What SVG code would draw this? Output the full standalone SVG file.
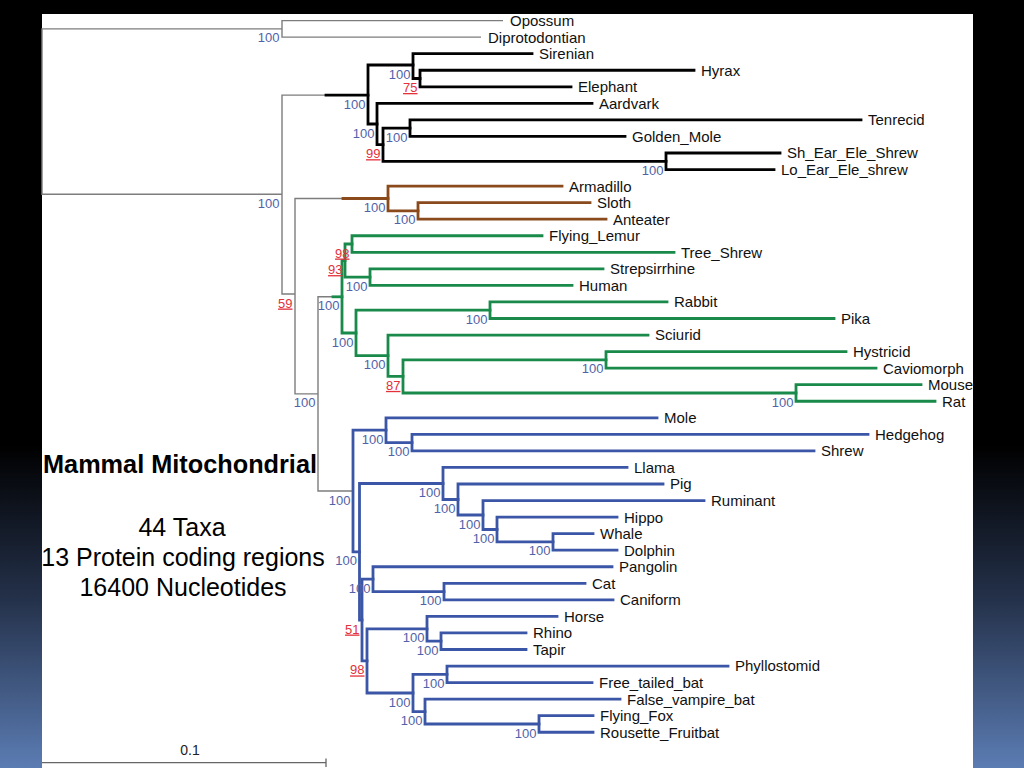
<svg xmlns="http://www.w3.org/2000/svg" width="1024" height="768" viewBox="0 0 1024 768">
<defs>
<linearGradient id="bg" x1="0" y1="0" x2="0" y2="768" gradientUnits="userSpaceOnUse">
<stop offset="0" stop-color="#000"/>
<stop offset="0.58" stop-color="#000"/>
<stop offset="0.78" stop-color="#24314a"/>
<stop offset="1" stop-color="#5b7cb3"/>
</linearGradient>
<style>
.br{fill:none;stroke-linejoin:miter;stroke-linecap:square}
.g{stroke:#7d7d7d;stroke-width:1.4;stroke-linecap:butt}
.k{stroke:#000;stroke-width:2.8}
.o{stroke:#8b4a1c;stroke-width:2.8}
.n{stroke:#198a4a;stroke-width:2.8}
.b{stroke:#3b56a6;stroke-width:2.8}
.tx{font-family:"Liberation Sans",Arial,sans-serif;font-size:15px;fill:#111}
.bs{font-family:"Liberation Sans",Arial,sans-serif;font-size:13px;fill:#5062a8;text-anchor:end}
.rs{font-family:"Liberation Sans",Arial,sans-serif;font-size:13px;fill:#e3303b;text-anchor:end;text-decoration:underline}
.info{font-family:"Liberation Sans",Arial,sans-serif;font-size:25px;fill:#000;text-anchor:middle}
</style>
</defs>
<rect x="0" y="0" width="1024" height="768" fill="url(#bg)"/>
<rect x="42" y="14" width="931" height="754" fill="#fff"/>

<g id="connectors">
<g class="br g">
<path d="M282 28.9 H42 V194.3 H282"/>
<path d="M503 20.6 H282 V37.15 H481"/>
<path d="M325 95.1 H282 V294 H295"/>
<path d="M342 198.5 H295 V393.9 H318"/>
<path d="M332 296.8 H318 V491 H353"/>
</g>
<g class="br k">
<path d="M326 95.1 H368"/>
<path d="M413 65 H368 V124 H377"/>
<path d="M532 53.7 H413 V78.5 H420"/>
<path d="M694 70.25 H420 V86.8 H571"/>
<path d="M592 103.35 H377 V144.7 H383"/>
<path d="M410 128.2 H383 V161.3 H666"/>
<path d="M861 119.9 H410 V136.45 H625"/>
<path d="M780 153 H666 V169.55 H774"/>
</g>
<g class="br o">
<path d="M343 198.5 H388"/>
<path d="M562 186.1 H388 V210.9 H418"/>
<path d="M590 202.65 H418 V219.2 H606"/>
</g>
<g class="br n">
<path d="M333 296.8 H342"/>
<path d="M345 260.6 H342 V333 H356"/>
<path d="M352 244 H345 V277.1 H370"/>
<path d="M542 235.75 H352 V252.3 H674"/>
<path d="M603 268.85 H370 V285.4 H572"/>
<path d="M490 310.2 H356 V355.7 H388"/>
<path d="M667 301.95 H490 V318.5 H834"/>
<path d="M648 335.05 H388 V376.4 H403"/>
<path d="M606 359.9 H403 V393 H796"/>
<path d="M846 351.6 H606 V368.15 H876"/>
<path d="M921 384.7 H796 V401.25 H935"/>
</g>
<g class="br b">
<path d="M386 430.2 H353 V551.8 H359.5"/>
<path d="M657 417.8 H386 V442.6 H412"/>
<path d="M868 434.35 H412 V450.9 H814"/>
<path d="M443 483.5 H359.5 V620 H362"/>
<path d="M627 467.45 H443 V499.5 H458"/>
<path d="M663 484 H458 V515 H483"/>
<path d="M704 500.55 H483 V529.5 H497"/>
<path d="M617 517.1 H497 V541.9 H553"/>
<path d="M593 533.65 H553 V550.2 H617"/>
<path d="M373 579.2 H362 V660.9 H367"/>
<path d="M612 566.75 H373 V591.6 H444"/>
<path d="M585 583.3 H444 V599.85 H613"/>
<path d="M427 628.8 H367 V693 H413"/>
<path d="M557 616.4 H427 V641.2 H441"/>
<path d="M526 632.95 H441 V649.5 H526"/>
<path d="M447 674.3 H413 V711.6 H425"/>
<path d="M728 666.05 H447 V682.6 H592"/>
<path d="M620 699.15 H425 V724 H539"/>
<path d="M593 715.7 H539 V732.25 H593"/>
</g>
</g>

<g id="taxa" class="tx">
<g id="t-opossum"><text x="510" y="26">Opossum</text></g>
<g id="t-diprotodontian"><text x="488" y="42.5">Diprotodontian</text></g>
<g id="t-sirenian"><text x="539" y="59.1">Sirenian</text></g>
<g id="t-hyrax"><text x="701" y="75.6">Hyrax</text></g>
<g id="t-elephant"><text x="578" y="92.2">Elephant</text></g>
<g id="t-aardvark"><text x="599" y="108.7">Aardvark</text></g>
<g id="t-tenrecid"><text x="868" y="125.3">Tenrecid</text></g>
<g id="t-golden-mole"><text x="632" y="141.8">Golden_Mole</text></g>
<g id="t-sh-ear"><text x="787" y="158.4">Sh_Ear_Ele_Shrew</text></g>
<g id="t-lo-ear"><text x="781" y="174.9">Lo_Ear_Ele_shrew</text></g>
<g id="t-armadillo"><text x="569" y="191.5">Armadillo</text></g>
<g id="t-sloth"><text x="597" y="208">Sloth</text></g>
<g id="t-anteater"><text x="613" y="224.6">Anteater</text></g>
<g id="t-flying-lemur"><text x="549" y="241.1">Flying_Lemur</text></g>
<g id="t-tree-shrew"><text x="681" y="257.7">Tree_Shrew</text></g>
<g id="t-strepsirrhine"><text x="610" y="274.2">Strepsirrhine</text></g>
<g id="t-human"><text x="579" y="290.8">Human</text></g>
<g id="t-rabbit"><text x="674" y="307.3">Rabbit</text></g>
<g id="t-pika"><text x="841" y="323.9">Pika</text></g>
<g id="t-sciurid"><text x="655" y="340.4">Sciurid</text></g>
<g id="t-hystricid"><text x="853" y="357">Hystricid</text></g>
<g id="t-caviomorph"><text x="883" y="373.5">Caviomorph</text></g>
<g id="t-mouse"><text x="928" y="390.1">Mouse</text></g>
<g id="t-rat"><text x="942" y="406.6">Rat</text></g>
<g id="t-mole"><text x="664" y="423.2">Mole</text></g>
<g id="t-hedgehog"><text x="875" y="439.7">Hedgehog</text></g>
<g id="t-shrew"><text x="821" y="456.3">Shrew</text></g>
<g id="t-llama"><text x="634" y="472.8">Llama</text></g>
<g id="t-pig"><text x="670" y="489.4">Pig</text></g>
<g id="t-ruminant"><text x="711" y="505.9">Ruminant</text></g>
<g id="t-hippo"><text x="624" y="522.5">Hippo</text></g>
<g id="t-whale"><text x="600" y="539">Whale</text></g>
<g id="t-dolphin"><text x="624" y="555.6">Dolphin</text></g>
<g id="t-pangolin"><text x="619" y="572.1">Pangolin</text></g>
<g id="t-cat"><text x="592" y="588.7">Cat</text></g>
<g id="t-caniform"><text x="620" y="605.2">Caniform</text></g>
<g id="t-horse"><text x="564" y="621.8">Horse</text></g>
<g id="t-rhino"><text x="533" y="638.3">Rhino</text></g>
<g id="t-tapir"><text x="533" y="654.9">Tapir</text></g>
<g id="t-phyllostomid"><text x="735" y="671.4">Phyllostomid</text></g>
<g id="t-free-tailed-bat"><text x="599" y="688">Free_tailed_bat</text></g>
<g id="t-false-vampire-bat"><text x="627" y="704.5">False_vampire_bat</text></g>
<g id="t-flying-fox"><text x="600" y="721.1">Flying_Fox</text></g>
<g id="t-rousette"><text x="600" y="737.6">Rousette_Fruitbat</text></g>
</g>

<g id="support">
<g id="n-marsupialia"><text class="bs" x="279.5" y="42.4">100</text></g>
<g id="n-eutheria"><text class="bs" x="279.5" y="207.8">100</text></g>
<g id="n-a"><text class="rs" x="292.5" y="307.5">59</text></g>
<g id="n-b"><text class="bs" x="315.5" y="407.4">100</text></g>
<g id="n-afrotheria"><text class="bs" x="365.5" y="108.6">100</text></g>
<g id="n-e"><text class="bs" x="410.5" y="78.5">100</text></g>
<g id="n-f"><text class="rs" x="417.5" y="92">75</text></g>
<g id="n-g"><text class="bs" x="374.5" y="137.5">100</text></g>
<g id="n-h"><text class="rs" x="380.5" y="158.2">99</text></g>
<g id="n-i"><text class="bs" x="407.5" y="141.7">100</text></g>
<g id="n-j"><text class="bs" x="663.5" y="174.8">100</text></g>
<g id="n-xenarthra"><text class="bs" x="385.5" y="212">100</text></g>
<g id="n-l"><text class="bs" x="415.5" y="224.4">100</text></g>
<g id="n-euarchontoglires"><text class="bs" x="339.5" y="310.3">100</text></g>
<g id="n-u"><text class="rs" x="349.5" y="257.5">98</text></g>
<g id="n-t"><text class="rs" x="342.5" y="274.1">93</text></g>
<g id="n-v"><text class="bs" x="367.5" y="290.6">100</text></g>
<g id="n-glires"><text class="bs" x="353.5" y="346.5">100</text></g>
<g id="n-o"><text class="bs" x="487.5" y="323.7">100</text></g>
<g id="n-p"><text class="bs" x="385.5" y="369.2">100</text></g>
<g id="n-q"><text class="rs" x="400.5" y="389.9">87</text></g>
<g id="n-r"><text class="bs" x="603.5" y="373.4">100</text></g>
<g id="n-s"><text class="bs" x="793.5" y="406.5">100</text></g>
<g id="n-laurasiatheria"><text class="bs" x="350.5" y="504.5">100</text></g>
<g id="n-e1"><text class="bs" x="383.5" y="443.7">100</text></g>
<g id="n-hs"><text class="bs" x="409.5" y="456.1">100</text></g>
<g id="n-x"><text class="bs" x="357" y="565.3">100</text></g>
<g id="n-ca"><text class="bs" x="440.5" y="497">100</text></g>
<g id="n-cb"><text class="bs" x="455.5" y="513">100</text></g>
<g id="n-cc"><text class="bs" x="480.5" y="528.5">100</text></g>
<g id="n-hw"><text class="bs" x="494.5" y="543">100</text></g>
<g id="n-wd"><text class="bs" x="550.5" y="555.4">100</text></g>
<g id="n-pc"><text class="bs" x="370.5" y="592.7">100</text></g>
<g id="n-catc"><text class="bs" x="441.5" y="605.1">100</text></g>
<g id="n-y"><text class="rs" x="359.5" y="633.5">51</text></g>
<g id="n-z"><text class="rs" x="364.5" y="674.4">98</text></g>
<g id="n-per"><text class="bs" x="424.5" y="642.3">100</text></g>
<g id="n-rt"><text class="bs" x="438.5" y="654.7">100</text></g>
<g id="n-chi"><text class="bs" x="410.5" y="706.5">100</text></g>
<g id="n-pf"><text class="bs" x="444.5" y="687.8">100</text></g>
<g id="n-fv"><text class="bs" x="422.5" y="725.1">100</text></g>
<g id="n-fr"><text class="bs" x="536.5" y="737.5">100</text></g>
</g>

<g id="info">
<text class="info" x="180" y="473" font-size="24" font-weight="bold" textLength="274" lengthAdjust="spacingAndGlyphs">Mammal Mitochondrial</text>
<text class="info" x="182" y="536">44 Taxa</text>
<text class="info" x="183" y="565.5">13 Protein coding regions</text>
<text class="info" x="183" y="595.5">16400 Nucleotides</text>
</g>

<g id="scale">
<path d="M42 762.7 H326 M326 758.5 V767" fill="none" stroke="#666" stroke-width="1.3"/>
<text x="190" y="755" font-family="Liberation Sans, Arial, sans-serif" font-size="14" fill="#222" text-anchor="middle">0.1</text>
</g>
</svg>
